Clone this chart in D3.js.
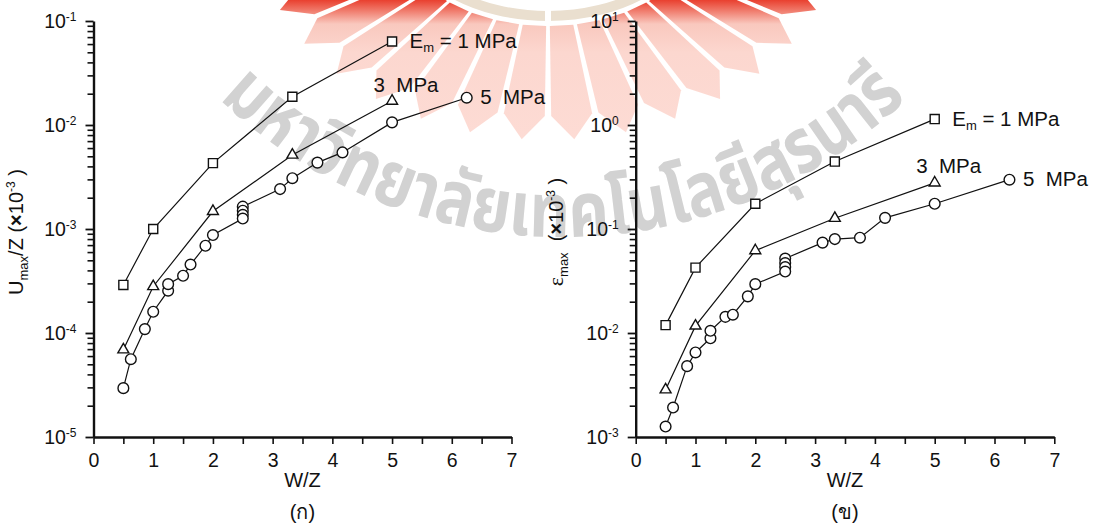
<!DOCTYPE html>
<html>
<head>
<meta charset="utf-8">
<script src="https://cdn.jsdelivr.net/npm/d3@7"></script>
<style>
  html, body { margin: 0; padding: 0; background: #fff; }
  svg { display: block; font-family: "Liberation Sans", Arial, sans-serif; }
  text { white-space: pre; }
</style>
</head>
<body>
<svg id="chart" width="1099" height="526"></svg>
<script>
// ---- data -------------------------------------------------------------
// W/Z values for the 1 MPa and 3 MPa runs
const wzCoarse = [0.5, 1, 2, 3.33, 5];
// W/Z values for the 5 MPa run (four repeats at 2.5)
const wzFine = [0.5, 0.625, 0.86, 1.0, 1.25, 1.25, 1.5, 1.625, 1.875, 2.0,
                2.5, 2.5, 2.5, 2.5, 3.125, 3.33, 3.75, 4.17, 5.0, 6.25];

// Umax/Z (x10^-3)
const uE1 = [2.9e-4, 1.0e-3, 4.3e-3, 1.87e-2, 6.35e-2];
const uE3 = [6.9e-5, 2.8e-4, 1.48e-3, 5.15e-3, 1.7e-2];
const uE5 = [2.95e-5, 5.6e-5, 1.09e-4, 1.6e-4, 2.55e-4, 2.95e-4, 3.55e-4, 4.55e-4, 6.9e-4, 8.75e-4,
             1.64e-3, 1.5e-3, 1.37e-3, 1.26e-3, 2.42e-3, 3.08e-3, 4.35e-3, 5.45e-3, 1.06e-2, 1.83e-2];

// epsilon max (x10^-3)
const eE1 = [1.19e-2, 4.25e-2, 0.175, 0.445, 1.14];
const eE3 = [2.85e-3, 1.17e-2, 6.2e-2, 0.127, 0.278];
const eE5 = [1.26e-3, 1.92e-3, 4.8e-3, 6.5e-3, 8.9e-3, 1.05e-2, 1.43e-2, 1.5e-2, 2.25e-2, 2.95e-2,
             5.2e-2, 4.7e-2, 4.3e-2, 3.9e-2, 7.4e-2, 8.0e-2, 8.25e-2, 0.128, 0.175, 0.298];

const seriesNames = ["1 MPa", "3  MPa", "5  MPa"];
const xTickLabels = [0, 1, 2, 3, 4, 5, 6, 7];
const uDecades = [-5, -4, -3, -2, -1];
const eDecades = [-3, -2, -1, 0, 1];
const panelTags = ["(ก)", "(ข)"];
const watermarkText = "มหาวิทยาลัยเทคโนโลยีสุรนารี";

// ---- drawing ----------------------------------------------------------
const svg = d3.select("#chart");
const defs = svg.append("defs");

// background emblem and arc lettering
(function drawEmblem() {
  const g = svg.append("g");
  const grad = defs.append("linearGradient").attr("id", "rayFill")
    .attr("gradientUnits", "userSpaceOnUse")
    .attr("x1", 0).attr("y1", 0).attr("x2", 0).attr("y2", 150);
  grad.append("stop").attr("offset", 0).attr("stop-color", "#e9402f");
  grad.append("stop").attr("offset", 0.07).attr("stop-color", "#f07a6b");
  grad.append("stop").attr("offset", 0.16).attr("stop-color", "#f9c8be");
  grad.append("stop").attr("offset", 0.35).attr("stop-color", "#fcd7cf");
  grad.append("stop").attr("offset", 1).attr("stop-color", "#fddcd5");

  const cx = 548, cy = -70;
  const pt = (deg, rx, ry) => {
    const a = deg * Math.PI / 180;
    return [cx + rx * Math.cos(a), cy + ry * Math.sin(a)];
  };
  const n = 16, a0 = 12, a1 = 168;
  const step = (a1 - a0) / (n - 1), hw = step / 2 - 0.7;
  const mids = d3.range(n).map(i => a0 + i * step);
  g.selectAll("path.ray").data(mids).join("path")
    .attr("class", "ray")
    .attr("fill", "url(#rayFill)")
    .attr("d", m => {
      const p = [pt(m - hw, 150, 96), pt(m - hw, 262, 186), pt(m, 290, 210),
                 pt(m + hw, 262, 186), pt(m + hw, 150, 96)];
      return "M" + p.map(q => q.join(",")).join("L") + "Z";
    });
  g.append("ellipse").attr("cx", cx).attr("cy", cy).attr("rx", 140).attr("ry", 86)
    .attr("fill", "#fff").attr("stroke", "#eadfcf").attr("stroke-width", 10);
  g.append("rect").attr("x", 545).attr("y", 0).attr("width", 6).attr("height", 26).attr("fill", "#fff");

  const R = 497, ox = 563, oy = -260;
  defs.append("path").attr("id", "wmArc")
    .attr("d", `M${ox - R},${oy} A${R},${R} 0 0 0 ${ox + R},${oy}`);
  g.append("text")
    .attr("font-family", "'Noto Sans Thai', Loma, Garuda, 'Tlwg Typo', 'Noto Sans', sans-serif")
    .attr("font-size", 76).attr("font-weight", "bold").attr("fill", "#d2d2d2")
    .append("textPath").attr("href", "#wmArc").attr("startOffset", "50%")
    .attr("text-anchor", "middle")
    .attr("textLength", 760).attr("lengthAdjust", "spacingAndGlyphs")
    .text(watermarkText);
})();

const yRange = [437, 21];
const ink = "#111";

const panels = [
  { xRange: [93.5, 511.5], decades: uDecades, series: [uE1, uE3, uE5], titleX: 23, tag: panelTags[0], kind: "u" },
  { xRange: [635.7, 1054.3], decades: eDecades, series: [eE1, eE3, eE5], titleX: 563, tag: panelTags[1], kind: "e" }
];

const symbols = [d3.symbolSquare, d3.symbolTriangle, d3.symbolCircle];
const symbolSizes = [82, 52, 90];
// label offsets from the last point of each series
const labelOffsets = [[17.5, 6.5], [-18.5, -9.5], [13.5, 6]];

panels.forEach(p => {
  const g = svg.append("g");
  const x = d3.scaleLinear().domain([0, 7]).range(p.xRange);
  const y = d3.scaleLog().domain([10 ** p.decades[0], 10 ** p.decades[p.decades.length - 1]]).range(yRange);

  // minor y ticks
  const minors = [];
  p.decades.slice(0, -1).forEach(e => { for (let k = 2; k <= 9; k++) minors.push(k * 10 ** e); });
  const gyMinor = g.append("g").attr("transform", `translate(${p.xRange[0]},0)`)
    .call(d3.axisLeft(y).tickValues(minors).tickSize(6).tickSizeOuter(0).tickFormat(""));
  gyMinor.select(".domain").remove();
  gyMinor.selectAll("line").attr("stroke", ink).attr("stroke-width", 1.6);

  // major y ticks with power-of-ten labels
  const gy = g.append("g").attr("transform", `translate(${p.xRange[0]},0)`)
    .call(d3.axisLeft(y).tickValues(p.decades.map(e => 10 ** e)).tickSize(8).tickSizeOuter(0).tickPadding(9).tickFormat(""));
  gy.select(".domain").attr("stroke", ink).attr("stroke-width", 2.4);
  gy.selectAll("line").attr("stroke", ink).attr("stroke-width", 1.8);
  gy.selectAll("text").each(function (d) {
    const t = d3.select(this).attr("fill", ink).attr("font-size", 19.5).attr("font-family", null);
    t.text(null);
    t.append("tspan").text("10");
    t.append("tspan").attr("dy", -7).attr("font-size", 12).text(String(Math.round(Math.log10(d))));
  });

  // x axis
  const gx = g.append("g").attr("transform", `translate(0,${yRange[0]})`)
    .call(d3.axisBottom(x).tickValues(d3.range(0, 7.01, 0.5)).tickSize(7).tickSizeOuter(0).tickPadding(9)
      .tickFormat(d => xTickLabels.includes(d) ? String(d) : ""));
  gx.select(".domain").attr("stroke", ink).attr("stroke-width", 2.4);
  gx.selectAll("line").attr("stroke", ink).attr("stroke-width", 1.6);
  gx.selectAll("text").attr("fill", ink).attr("font-size", 19.5).attr("font-family", null);

  // axis titles
  const cxMid = (p.xRange[0] + p.xRange[1]) / 2;
  g.append("text").attr("x", cxMid).attr("y", 487).attr("text-anchor", "middle")
    .attr("font-size", 20).attr("fill", ink).text("W/Z");
  g.append("text").attr("x", cxMid).attr("y", 519).attr("text-anchor", "middle")
    .attr("font-size", 20).attr("fill", ink).text(p.tag);

  const yt = g.append("text").attr("transform", `translate(${p.titleX},232) rotate(-90)`)
    .attr("text-anchor", "middle").attr("font-size", 20).attr("fill", ink);
  if (p.kind === "u") {
    yt.append("tspan").text("U");
    yt.append("tspan").attr("font-size", 13).attr("dy", 5).text("max");
    yt.append("tspan").attr("dy", -5).text("/Z (");
  } else {
    yt.append("tspan").attr("font-family", "'Liberation Serif', serif").attr("font-size", 22).text("ε");
    yt.append("tspan").attr("font-size", 13).attr("dy", 5).text("max");
    yt.append("tspan").attr("dy", -5).text("  (");
  }
  yt.append("tspan").attr("font-weight", "bold").text("×");
  yt.append("tspan").text("10");
  yt.append("tspan").attr("font-size", 12).attr("dy", -8).text("-3");
  yt.append("tspan").attr("dy", 8).text(" )");

  // series lines, markers and labels
  p.series.forEach((vals, si) => {
    const xs = si < 2 ? wzCoarse : wzFine;
    const pts = vals.map((v, i) => ({ x: xs[i], v, i }));
    const linePts = pts.slice().sort((a, b) => a.x - b.x || a.v - b.v);
    g.append("path").datum(linePts)
      .attr("fill", "none").attr("stroke", ink).attr("stroke-width", 1.2)
      .attr("d", d3.line().x(d => x(d.x)).y(d => y(d.v)));
  });
  p.series.forEach((vals, si) => {
    const xs = si < 2 ? wzCoarse : wzFine;
    const sym = d3.symbol().type(symbols[si]).size(symbolSizes[si]);
    g.selectAll(null).data(vals.map((v, i) => ({ x: xs[i], v }))).join("path")
      .attr("transform", d => `translate(${x(d.x)},${y(d.v)})`)
      .attr("d", sym).attr("fill", "#fff").attr("stroke", ink).attr("stroke-width", 1.4);

    const last = { x: xs[vals.length - 1], v: vals[vals.length - 1] };
    const lx = x(last.x) + labelOffsets[si][0], ly = y(last.v) + labelOffsets[si][1];
    const t = g.append("text").attr("x", lx).attr("y", ly).attr("font-size", 20.5).attr("fill", ink);
    if (si === 0) {
      t.append("tspan").text("E");
      t.append("tspan").attr("font-size", 13).attr("dy", 4).text("m");
      t.append("tspan").attr("dy", -4).text(" = " + seriesNames[0]);
    } else {
      t.text(seriesNames[si]);
    }
  });
});
</script>
</body>
</html>
